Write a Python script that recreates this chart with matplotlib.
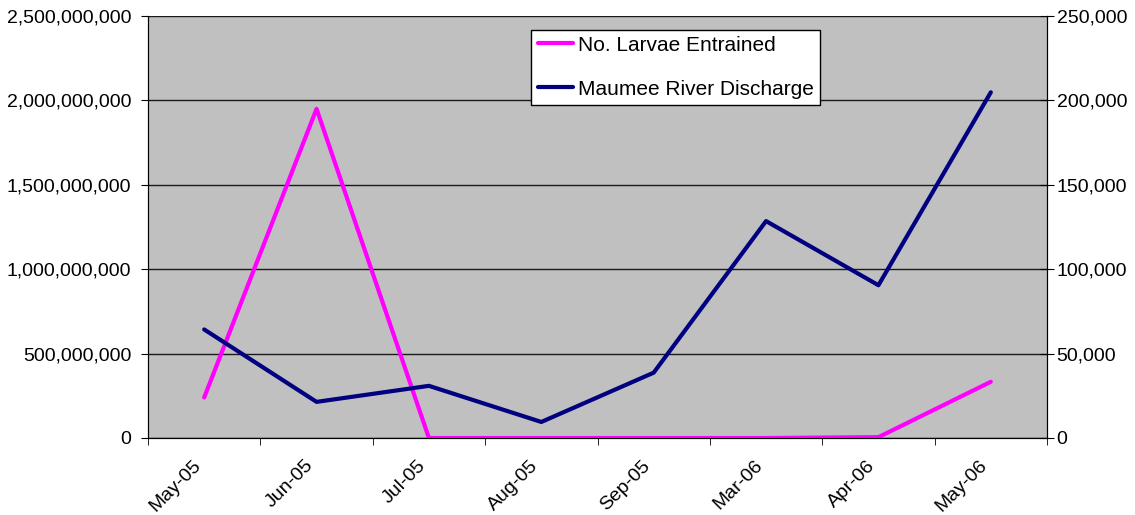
#!/usr/bin/env python3
import matplotlib as mpl
import matplotlib.pyplot as plt
import matplotlib.transforms as mtransforms
from matplotlib.ticker import FuncFormatter, FixedLocator
import numpy as np

# Data
months = ['May-05', 'Jun-05', 'Jul-05', 'Aug-05', 'Sep-05', 'Mar-06', 'Apr-06', 'May-06']
larvae = [2.40e8, 1.95e9, 0, 0, 0, 0, 5e6, 3.33e8]
discharge = [64300, 21400, 30900, 9500, 38700, 128500, 90500, 204800]

mpl.rcParams['font.family'] = ['Liberation Sans', 'DejaVu Sans']
mpl.rcParams['font.size'] = 14

fig = plt.figure(figsize=(11.35, 5.15), dpi=100)
# plot area: x 148..1047 px, y 16..438 px
ax = fig.add_axes([148 / 1135, 77 / 515, 899 / 1135, 422 / 515])
ax2 = ax.twinx()

x = np.arange(len(months))
ax.set_facecolor('#C0C0C0')
ax.set_axisbelow(True)
l1, = ax.plot(x, larvae, color='#FF00FF', lw=3, solid_capstyle='round',
              label='No. Larvae Entrained', zorder=3)
l2, = ax2.plot(x, discharge, color='#000080', lw=3, solid_capstyle='round',
               label='Maumee River Discharge', zorder=3)

ax.set_xlim(-0.5, len(months) - 0.5)
ax.set_ylim(0, 2.5e9)
ax2.set_ylim(0, 250000)
ax.set_yticks(np.arange(0, 2.5e9 + 1, 5e8))
ax2.set_yticks(np.arange(0, 250001, 50000))
fmt = FuncFormatter(lambda v, p: f'{int(round(v)):,}')
ax.yaxis.set_major_formatter(fmt)
ax2.yaxis.set_major_formatter(fmt)
ax.grid(axis='y', color='#1a1a1a', lw=1)

# category labels centred, tick marks on the boundaries
ax.set_xticks(x)
ax.set_xticklabels(months, rotation=45, ha='right', va='center',
                   rotation_mode='anchor')
ax.tick_params(axis='x', length=0, pad=18)
shift = mtransforms.ScaledTranslation(-6 / 100, 0, fig.dpi_scale_trans)
for lab in ax.get_xticklabels():
    lab.set_transform(lab.get_transform() + shift)
ax.xaxis.set_minor_locator(FixedLocator(np.arange(-0.5, len(months), 1.0)))
ax.tick_params(axis='x', which='minor', length=5, direction='out', color='black')
ax.tick_params(axis='y', length=5, color='black', pad=7)
ax2.tick_params(axis='y', length=10, direction='inout', color='black', pad=2)

for a in (ax, ax2):
    a.spines['top'].set_visible(False)
    a.spines['left'].set_color('black')
    a.spines['right'].set_color('black')
    a.spines['bottom'].set_color('black')

leg = ax2.legend(handles=[l1, l2], loc='upper left', bbox_to_anchor=(0.4265, 0.968),
                 fancybox=False, framealpha=1, edgecolor='black', fontsize=15,
                 handlelength=1.7, handletextpad=0.25, labelspacing=1.2,
                 borderpad=0.3, borderaxespad=0)
leg.get_frame().set_linewidth(1)

fig.savefig('out.png', dpi=100)
